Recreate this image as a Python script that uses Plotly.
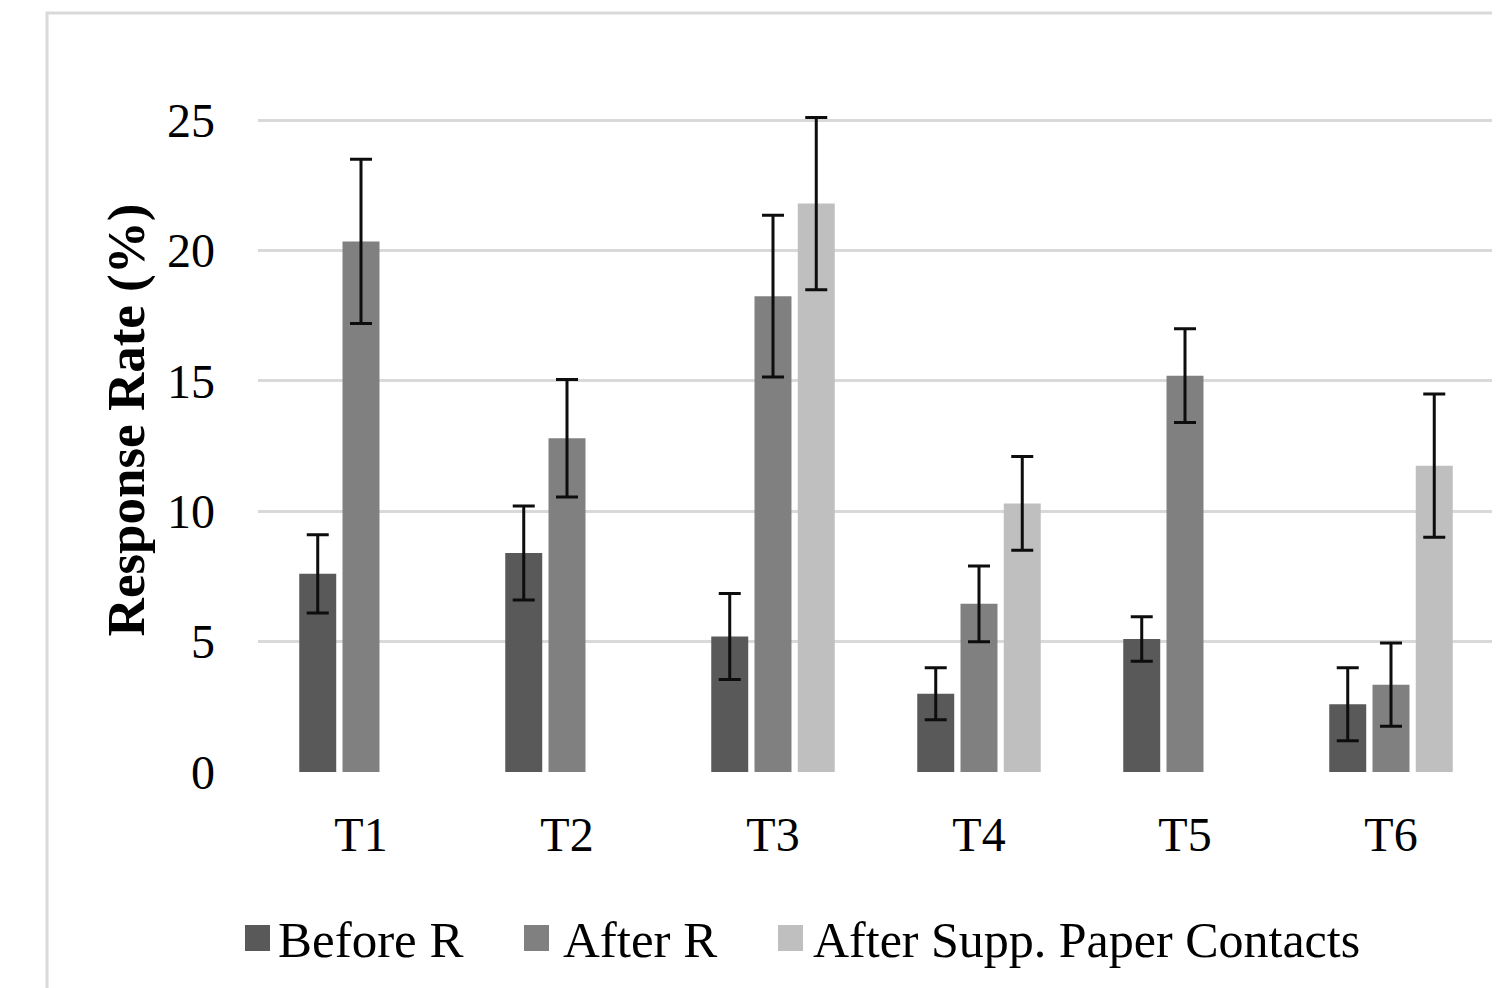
import plotly.graph_objects as go

categories = ["T1", "T2", "T3", "T4", "T5", "T6"]
series_names = ["Before R", "After R", "After Supp. Paper Contacts"]
before_r = [7.6, 8.4, 5.2, 3.0, 5.1, 2.6]
before_r_err = [1.5, 1.8, 1.65, 1.0, 0.85, 1.4]
after_r = [20.35, 12.8, 18.25, 6.45, 15.2, 3.35]
after_r_err = [3.15, 2.25, 3.1, 1.45, 1.8, 1.6]
after_supp = [None, None, 21.8, 10.3, None, 11.75]
after_supp_err = [None, None, 3.3, 1.8, None, 2.75]
colors = ["#595959", "#808080", "#bfbfbf"]

FONT = "Liberation Serif, Times New Roman, serif"

fig = go.Figure()
for name, vals, errs, col in zip(series_names,
                                 [before_r, after_r, after_supp],
                                 [before_r_err, after_r_err, after_supp_err],
                                 colors):
    fig.add_trace(go.Bar(
        x=categories, y=vals, name=name,
        marker=dict(color=col, line=dict(width=0)),
        error_y=dict(type="data", array=errs, visible=True,
                     color="#0d0d0d", thickness=3, width=11),
        showlegend=False,
    ))

# screen-space helpers (plot area: x 258..1494, y 68..772 on screen)
def px(sx):
    return (sx - 258) / 1236.0

def py(sy):
    return (772 - sy) / 704.0

shapes = [dict(type="rect", xref="paper", yref="paper",
               x0=-0.1707, x1=1.2, y0=-0.6, y1=1.078,
               line=dict(color="#d9d9d9", width=3), layer="below")]
annotations = []
legend_sq_x = [245, 524, 778]
legend_txt_x = [277, 562, 812]
legend_sizes = [51, 51, 50]
for name, col, sqx, tx, fs in zip(series_names, colors, legend_sq_x, legend_txt_x, legend_sizes):
    shapes.append(dict(type="rect", xref="paper", yref="paper",
                       x0=px(sqx), x1=px(sqx + 25), y0=py(951), y1=py(925),
                       fillcolor=col, line=dict(width=0)))
    annotations.append(dict(xref="paper", yref="paper", x=px(tx), y=py(940),
                            xanchor="left", yanchor="middle", showarrow=False,
                            text=name, borderpad=0,
                            font=dict(family=FONT, size=fs, color="#000000")))

fig.update_layout(
    width=1500, height=988,
    margin=dict(l=250, r=14, t=60, b=224),
    paper_bgcolor="white", plot_bgcolor="white",
    barmode="group", bargap=0.37, bargroupgap=0.145,
    font=dict(family=FONT, size=48, color="#000000"),
    showlegend=False,
    shapes=shapes,
    annotations=annotations,
)
fig.update_xaxes(
    showgrid=False, zeroline=False, showline=False,
    tickfont=dict(family=FONT, size=48, color="#000000"),
    ticks="", ticklabelstandoff=30,
)
fig.update_yaxes(
    range=[0, 27], tickvals=[0, 5, 10, 15, 20, 25],
    showgrid=True, gridcolor="#d9d9d9", gridwidth=3,
    zeroline=False, showline=False, ticks="",
    tickfont=dict(family=FONT, size=48, color="#000000"),
    ticklabelstandoff=42,
    title=dict(text="<b>Response Rate (%)</b>", standoff=5,
               font=dict(family=FONT, size=53, color="#000000")),
)

fig.write_html("out.html")
